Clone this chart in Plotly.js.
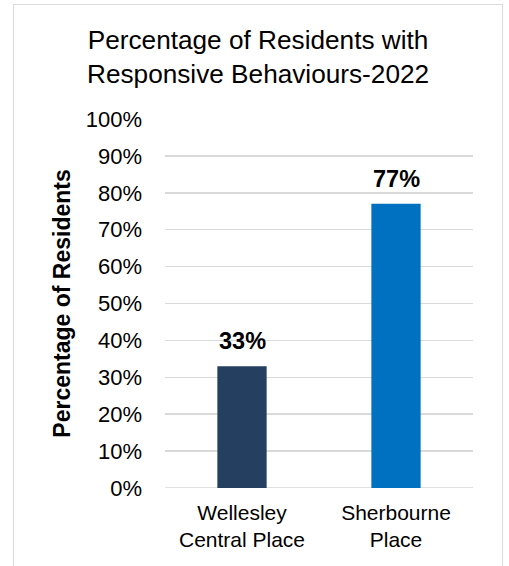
<!DOCTYPE html>
<html>
<head>
<meta charset="utf-8">
<script src="https://cdn.plot.ly/plotly-3.0.1.min.js"></script>
<style>
  html, body { margin: 0; padding: 0; background: #fff; }
  #wrap { position: relative; width: 509px; height: 566px; overflow: hidden; }
  #chart { position: absolute; left: 0; top: 0; width: 509px; height: 566px; }
  #frame { position: absolute; left: 13px; top: 4px; width: 488px; height: 620px;
           border: 1.5px solid #D9D9D9; pointer-events: none; }
</style>
</head>
<body>
<div id="wrap">
  <div id="chart"></div>
  <div id="frame"></div>
</div>
<script>
const categories = ["Wellesley<br>Central Place", "Sherbourne<br>Place"];
const values = [33, 77];
const valueLabels = ["33%", "77%"];
const barColors = ["#243F60", "#0070C0"];
const yTickValues = [0, 10, 20, 30, 40, 50, 60, 70, 80, 90, 100];
const yTickLabels = ["0%", "10%", "20%", "30%", "40%", "50%", "60%", "70%", "80%", "90%", "100%"];
const chartTitle = "Percentage of Residents with<br>Responsive Behaviours-2022";
const yTitle = "Percentage of Residents";

const font = "Liberation Sans, Arial, Helvetica, sans-serif";

const trace = {
  type: "bar",
  x: categories,
  y: values,
  marker: { color: barColors },
  hoverinfo: "skip"
};

const annotations = categories.map((c, i) => ({
  x: c, y: values[i], xref: "x", yref: "y",
  text: "<b>" + valueLabels[i] + "</b>",
  showarrow: false, yanchor: "bottom", yshift: 10,
  font: { family: font, size: 23.5, color: "#000" }
}));

const layout = {
  width: 509, height: 566,
  margin: { l: 165, r: 36, t: 119, b: 78 },
  paper_bgcolor: "#fff", plot_bgcolor: "#fff",
  bargap: 0.68,
  showlegend: false,
  title: {
    text: chartTitle,
    font: { family: font, size: 26.2, color: "#000" },
    x: 0.507, xanchor: "center", xref: "container",
    y: 0.913, yanchor: "middle", yref: "container"
  },
  xaxis: {
    type: "category",
    tickfont: { family: font, size: 21, color: "#000" },
    ticks: "", ticklabelstandoff: 10,
    showgrid: false, showline: false, zeroline: false
  },
  yaxis: {
    range: [0, 100],
    tickvals: yTickValues, ticktext: yTickLabels,
    tickfont: { family: font, size: 22, color: "#000" },
    ticks: "", ticklabelstandoff: 22,
    showgrid: true, gridcolor: "#D9D9D9", gridwidth: 1.5,
    zeroline: false, showline: false,
    title: {
      text: "<b>" + yTitle + "</b>",
      font: { family: font, size: 23, color: "#000" },
      standoff: 8
    }
  },
  shapes: [{
    type: "line", xref: "paper", yref: "y", x0: 0, x1: 1, y0: 0, y1: 0,
    line: { color: "#D9D9D9", width: 1.5 }, layer: "below"
  }],
  annotations: annotations
};

Plotly.newPlot("chart", [trace], layout, { staticPlot: true, displayModeBar: false });
</script>
</body>
</html>
